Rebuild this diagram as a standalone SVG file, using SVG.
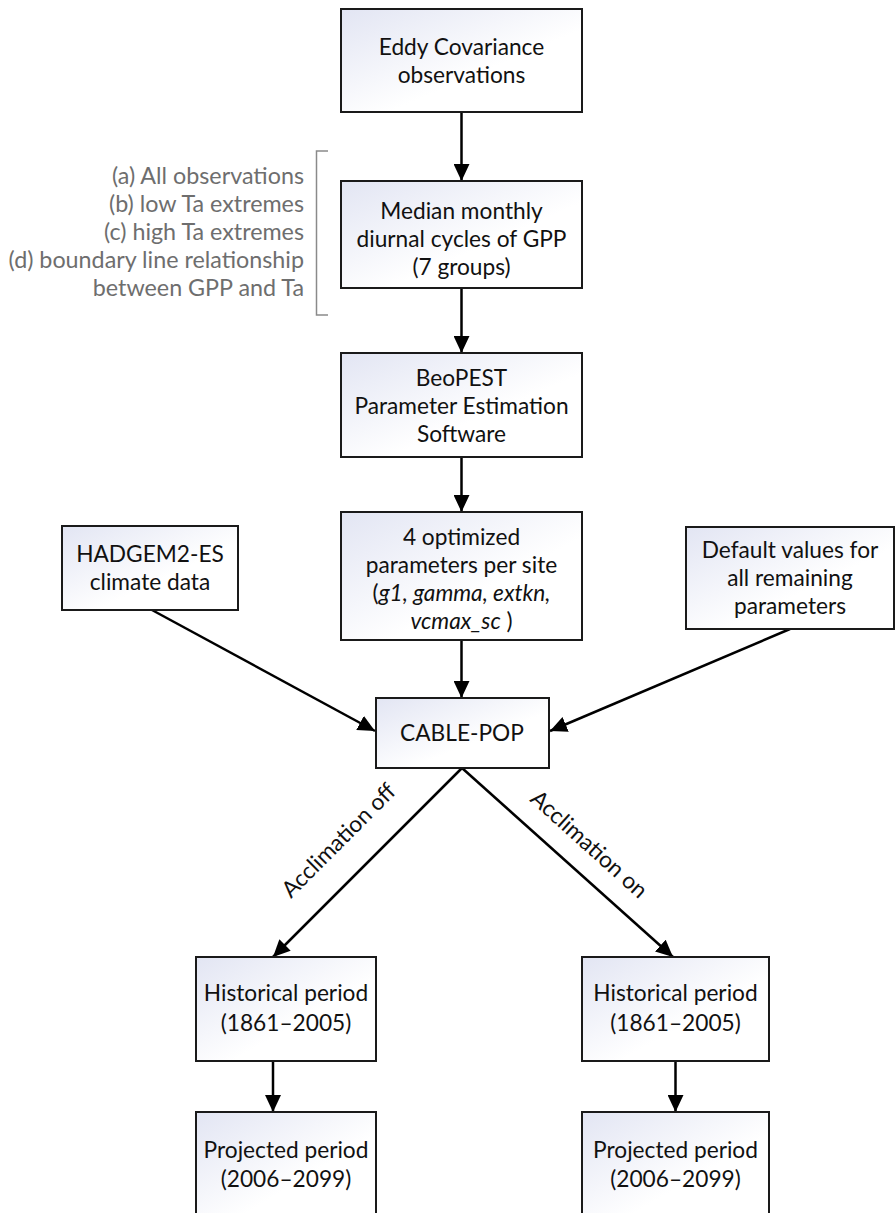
<svg xmlns="http://www.w3.org/2000/svg" width="896" height="1213" viewBox="0 0 896 1213">
<defs>
<linearGradient id="bg" x1="0" y1="0" x2="1" y2="1">
<stop offset="0" stop-color="#e2e5f3"/>
<stop offset="0.6" stop-color="#ffffff"/>
<stop offset="1" stop-color="#ffffff"/>
</linearGradient>
<marker id="ah" markerUnits="userSpaceOnUse" markerWidth="18" markerHeight="16" refX="17" refY="8" orient="auto">
<path d="M0,0 L17,8 L0,16 z" fill="#000"/>
</marker>
</defs>
<style>
.box{fill:url(#bg);stroke:#1a1a1a;stroke-width:2}
.t{font-family:Lato,"Liberation Sans",sans-serif;font-size:22.7px;fill:#111;text-anchor:middle}
.g{font-family:Lato,"Liberation Sans",sans-serif;font-size:23.3px;fill:#6e6e6e;text-anchor:end}
.c{stroke:#000;stroke-width:2.5;fill:none;marker-end:url(#ah)}
</style>
<rect width="896" height="1213" fill="#fff"/>
<g id="connectors">
<line class="c" x1="461.5" y1="112" x2="461.5" y2="181"/>
<line class="c" x1="461.5" y1="288" x2="461.5" y2="353"/>
<line class="c" x1="461.5" y1="457" x2="461.5" y2="512"/>
<line class="c" x1="461.5" y1="640" x2="461.5" y2="698"/>
<line class="c" x1="152" y1="610" x2="375" y2="731"/>
<line class="c" x1="790" y1="629" x2="550" y2="731"/>
<line class="c" x1="462" y1="768" x2="273" y2="957"/>
<line class="c" x1="462" y1="768" x2="673" y2="957"/>
<line class="c" x1="273" y1="1061" x2="273" y2="1112"/>
<line class="c" x1="675.5" y1="1061" x2="675.5" y2="1112"/>
<text class="t" transform="translate(344,846) rotate(-45)">Acclimation off</text>
<text class="t" transform="translate(584,850) rotate(42)">Acclimation on</text>
</g>
<g id="bracket">
<path d="M328,151 L316.5,151 L316.5,315 L328,315" fill="none" stroke="#8a8a8a" stroke-width="1.5"/>
<text class="g" x="304" y="184">(a) All observations</text>
<text class="g" x="304" y="212">(b) low Ta extremes</text>
<text class="g" x="304" y="240">(c) high Ta extremes</text>
<text class="g" x="304" y="268">(d) boundary line relationship</text>
<text class="g" x="304" y="296">between GPP and Ta</text>
</g>
<g id="eddy">
<rect class="box" x="341" y="9" width="241" height="103"/>
<text class="t" x="461.5" y="55">Eddy Covariance</text>
<text class="t" x="461.5" y="83">observations</text>
</g>
<g id="median">
<rect class="box" x="341" y="181" width="241" height="107"/>
<text class="t" x="461.5" y="219">Median monthly</text>
<text class="t" x="461.5" y="247">diurnal cycles of  GPP</text>
<text class="t" x="461.5" y="275">(7 groups)</text>
</g>
<g id="beopest">
<rect class="box" x="341" y="353" width="241" height="104"/>
<text class="t" x="461.5" y="386">BeoPEST</text>
<text class="t" x="461.5" y="414">Parameter Estimation</text>
<text class="t" x="461.5" y="442">Software</text>
</g>
<g id="optimized">
<rect class="box" x="341" y="512" width="241" height="128"/>
<text class="t" x="461.5" y="545">4 optimized</text>
<text class="t" x="461.5" y="573">parameters per site</text>
<text class="t" x="461.5" y="601">(<tspan font-style="italic">g1, gamma, extkn,</tspan></text>
<text class="t" x="461.5" y="629"><tspan font-style="italic">vcmax_sc</tspan> )</text>
</g>
<g id="hadgem">
<rect class="box" x="62" y="526" width="176" height="84"/>
<text class="t" x="150" y="562">HADGEM2-ES</text>
<text class="t" x="150" y="590">climate data</text>
</g>
<g id="default">
<rect class="box" x="686" y="527" width="208" height="102"/>
<text class="t" x="790" y="558">Default values for</text>
<text class="t" x="790" y="586">all remaining</text>
<text class="t" x="790" y="614">parameters</text>
</g>
<g id="cablepop">
<rect class="box" x="376" y="698" width="173" height="70"/>
<text class="t" x="462" y="741">CABLE-POP</text>
</g>
<g id="hist-off">
<rect class="box" x="196" y="957" width="180" height="104"/>
<text class="t" x="286" y="1001">Historical period</text>
<text class="t" x="286" y="1031">(1861–2005)</text>
</g>
<g id="proj-off">
<rect class="box" x="196" y="1112" width="180" height="110"/>
<text class="t" x="286" y="1158">Projected period</text>
<text class="t" x="286" y="1187">(2006–2099)</text>
</g>
<g id="hist-on">
<rect class="box" x="582" y="957" width="187" height="104"/>
<text class="t" x="675.5" y="1001">Historical period</text>
<text class="t" x="675.5" y="1031">(1861–2005)</text>
</g>
<g id="proj-on">
<rect class="box" x="582" y="1112" width="187" height="110"/>
<text class="t" x="675.5" y="1158">Projected period</text>
<text class="t" x="675.5" y="1187">(2006–2099)</text>
</g>
</svg>
